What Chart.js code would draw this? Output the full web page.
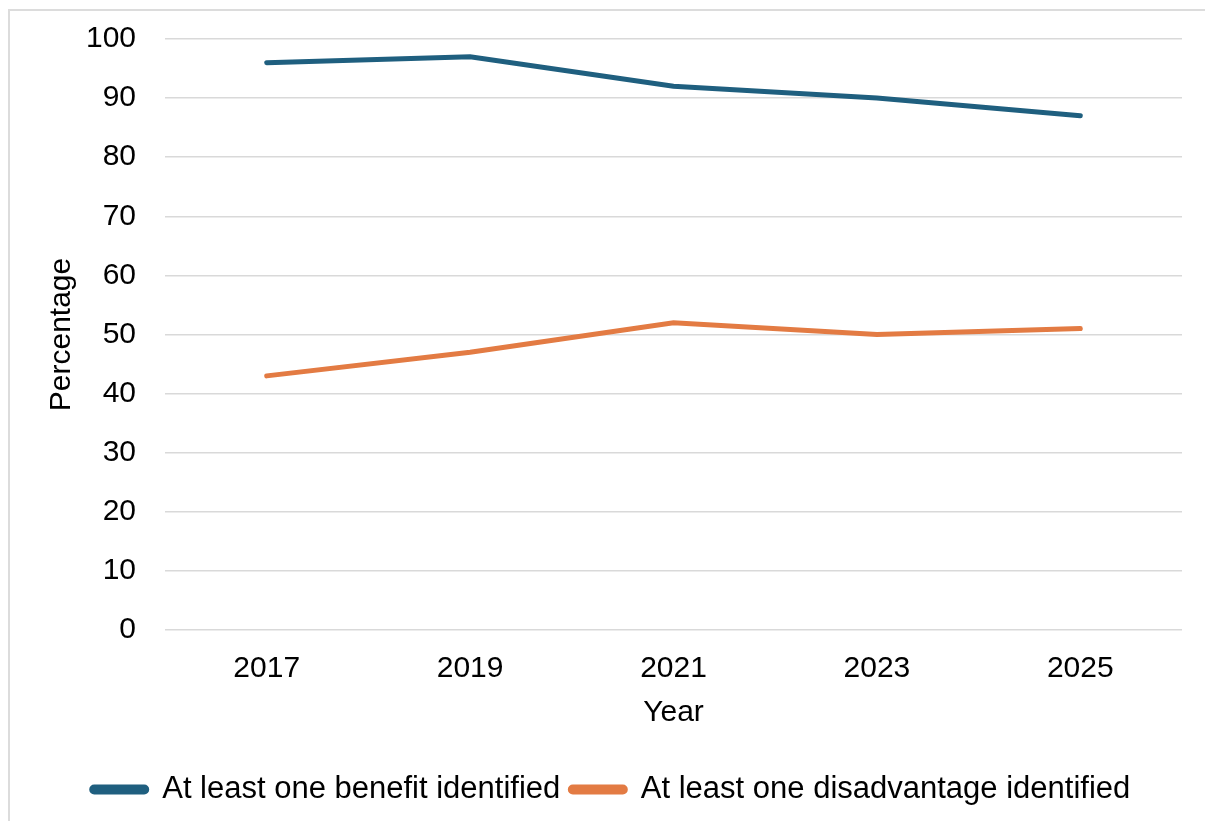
<!DOCTYPE html>
<html>
<head>
<meta charset="utf-8">
<script src="https://cdn.jsdelivr.net/npm/chart.js@4"></script>
<style>
  html, body { margin: 0; padding: 0; background: #fff; }
  #wrap { position: relative; width: 1205px; height: 821px; overflow: hidden; }
  #frame { position: absolute; left: 8px; top: 9px; width: 1300px; height: 900px;
           border-left: 2px solid #dcdcdc; border-top: 2px solid #dcdcdc; }
  canvas { position: absolute; left: 0; top: 0; }
</style>
</head>
<body>
<div id="wrap">
  <div id="frame"></div>
  <canvas id="lineChart" width="1205" height="821"></canvas>
</div>
<script>
const years = ["2017", "2019", "2021", "2023", "2025"];
const benefit = [96, 97, 92, 90, 87];
const disadvantage = [43, 47, 52, 50, 51];
const seriesNames = ["At least one benefit identified", "At least one disadvantage identified"];
const seriesColors = ["#1f5f7f", "#e37b43"];

const axisFont = { family: "'Liberation Sans', Arial, sans-serif", size: 30 };

const ctx = document.getElementById("lineChart").getContext("2d");

const chart = new Chart(ctx, {
  type: "line",
  data: {
    labels: years,
    datasets: [
      {
        label: seriesNames[0],
        data: benefit,
        borderColor: seriesColors[0],
        backgroundColor: seriesColors[0],
        borderWidth: 5,
        borderCapStyle: "round",
        pointRadius: 0,
        tension: 0,
      },
      {
        label: seriesNames[1],
        data: disadvantage,
        borderColor: seriesColors[1],
        backgroundColor: seriesColors[1],
        borderWidth: 5,
        borderCapStyle: "round",
        pointRadius: 0,
        tension: 0,
      },
    ],
  },
  options: {
    responsive: false,
    animation: false,
    devicePixelRatio: 1,
    layout: {
      padding: { left: 40, top: 39, right: 23, bottom: 6 },
    },
    plugins: {
      tooltip: { enabled: false },
      legend: {
        position: "bottom",
        labels: {
          color: "#000",
          font: { family: "'Liberation Sans', Arial, sans-serif", size: 31 },
          boxWidth: 55,
          boxHeight: 5,
          useBorderRadius: true,
          borderRadius: 2.5,
          padding: 10,
        },
      },
    },
    scales: {
      x: {
        offset: true,
        grid: { display: false, drawTicks: false },
        border: { display: false },
        ticks: { color: "#000", font: axisFont, padding: 21 },
        title: {
          display: true,
          text: "Year",
          color: "#000",
          font: axisFont,
          padding: { top: 0, bottom: 33 },
        },
        afterFit: (scale) => {
          scale.height = 134;
        },
      },
      y: {
        min: 0,
        max: 100,
        grid: { color: "#d9d9d9", lineWidth: 1.5, drawTicks: false },
        border: { display: false },
        ticks: { stepSize: 10, color: "#000", font: axisFont, padding: 29 },
        title: {
          display: true,
          text: "Percentage",
          color: "#000",
          font: axisFont,
          padding: { top: 4, bottom: 0 },
        },
        afterFit: (scale) => {
          scale.width = 125;
          scale.paddingTop = 0;
          scale.paddingBottom = 0;
        },
      },
    },
  },
});
</script>
</body>
</html>
